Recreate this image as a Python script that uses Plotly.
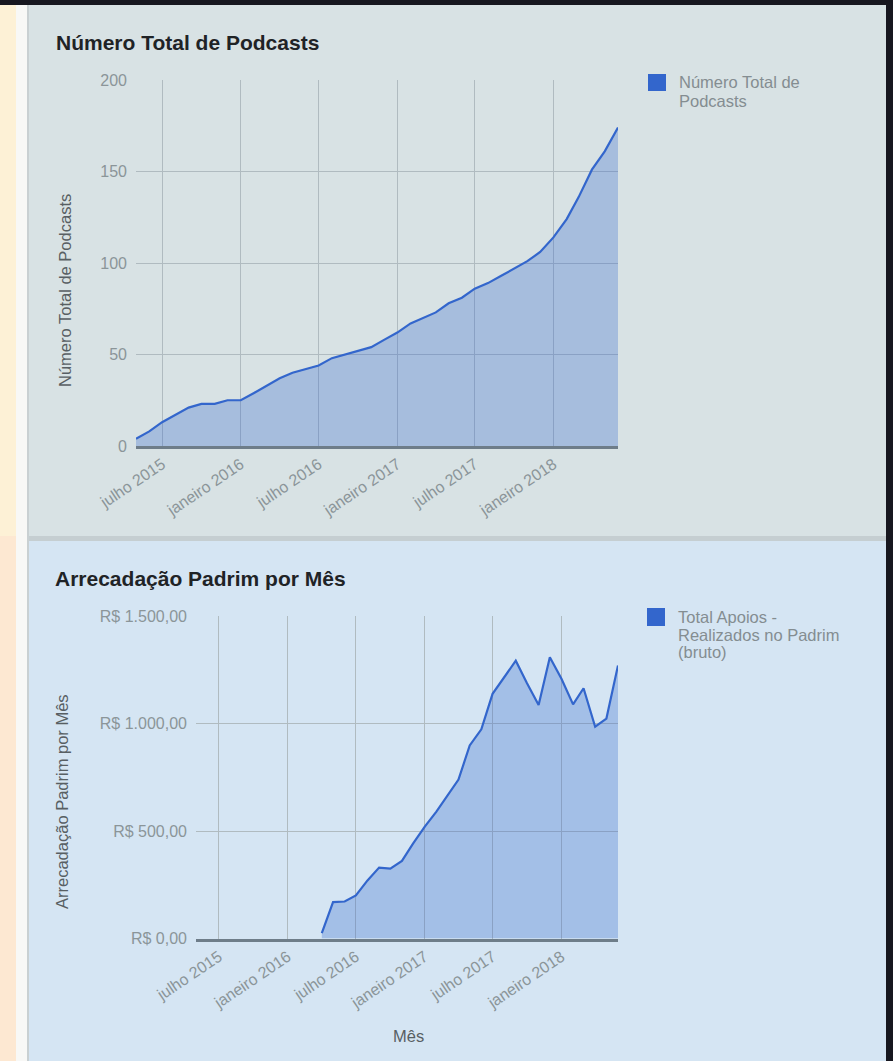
import plotly.graph_objects as go

W, H = 893, 1061

# ---------------- data ----------------
months = [
    "2015-05-01", "2015-06-01", "2015-07-01", "2015-08-01", "2015-09-01", "2015-10-01",
    "2015-11-01", "2015-12-01", "2016-01-01", "2016-02-01", "2016-03-01", "2016-04-01",
    "2016-05-01", "2016-06-01", "2016-07-01", "2016-08-01", "2016-09-01", "2016-10-01",
    "2016-11-01", "2016-12-01", "2017-01-01", "2017-02-01", "2017-03-01", "2017-04-01",
    "2017-05-01", "2017-06-01", "2017-07-01", "2017-08-01", "2017-09-01", "2017-10-01",
    "2017-11-01", "2017-12-01", "2018-01-01", "2018-02-01", "2018-03-01", "2018-04-01",
    "2018-05-01", "2018-06-01",
]

podcasts = [
    4, 8, 13, 17, 21, 23, 23, 25, 25, 29, 33, 37,
    40, 42, 44, 48, 50, 52, 54, 58, 62, 67, 70, 73,
    78, 81, 86, 89, 93, 97, 101, 106, 114, 124, 136, 151,
    161, 174,
]

padrim = [
    None, None, None, None, None, None, None, None, None, None, None, 25,
    169, 172, 200, 270, 330, 325, 361, 442, 520, 590, 658, 739,
    898, 973, 1138, 1214, 1292, 1187, 1086, 1308, 1208, 1089, 1164, 985,
    1023, 1270,
]

x_tick_dates = ["2015-07-01", "2016-01-01", "2016-07-01", "2017-01-01", "2017-07-01", "2018-01-01"]
x_tick_labels = ["julho 2015", "janeiro 2016", "julho 2016", "janeiro 2017", "julho 2017", "janeiro 2018"]

y1_ticks = [0, 50, 100, 150, 200]
y1_labels = ["0", "50", "100", "150", "200"]
y2_ticks = [0, 500, 1000, 1500]
y2_labels = ["R$ 0,00", "R$ 500,00", "R$ 1.000,00", "R$ 1.500,00"]

title1 = "Número Total de Podcasts"
title2 = "Arrecadação Padrim por Mês"
ytitle1 = "Número Total de Podcasts"
ytitle2 = "Arrecadação Padrim por Mês"
xtitle2 = "Mês"
legend1_lines = ["Número Total de", "Podcasts"]
legend2_lines = ["Total Apoios -", "Realizados no Padrim", "(bruto)"]

# ---------------- helpers ----------------
def fx(px):
    return px / W

def fy(py):
    return 1 - py / H

FONT = "Liberation Sans, Arial, sans-serif"
BLUE = "#3366cc"
FILL = "rgba(51,102,204,0.30)"
TICK_COLOR = "#8b9599"
TITLE_COLOR = "#585f63"

fig = go.Figure()

fig.add_trace(go.Scatter(
    x=months, y=podcasts, mode="lines", name="Número Total de Podcasts",
    line=dict(color=BLUE, width=2.2), fill="tozeroy", fillcolor=FILL,
    xaxis="x", yaxis="y", showlegend=False, hoverinfo="skip",
))
fig.add_trace(go.Scatter(
    x=months, y=padrim, mode="lines", name="Total Apoios - Realizados no Padrim (bruto)",
    line=dict(color=BLUE, width=2.2), fill="tozeroy", fillcolor=FILL,
    xaxis="x2", yaxis="y2", showlegend=False, hoverinfo="skip",
))

common_x = dict(
    type="date", range=[months[0], months[-1]],
    tickmode="array", tickvals=x_tick_dates, ticktext=x_tick_labels,
    tickangle=-34, tickfont=dict(family=FONT, size=16, color=TICK_COLOR),
    showgrid=True, gridcolor="#b0bbc0", gridwidth=1,
    showline=True, linecolor="#6e7d89", linewidth=3,
    ticks="", zeroline=False, fixedrange=True, automargin=False,
)
common_y = dict(
    tickmode="array", tickfont=dict(family=FONT, size=16, color=TICK_COLOR),
    showgrid=True, gridcolor="#b0bbc0", gridwidth=1,
    zeroline=False, showline=False, ticks="", ticklabelstandoff=8, fixedrange=True,
    automargin=False,
)

fig.update_layout(
    width=W, height=H, autosize=False,
    margin=dict(l=0, r=0, t=0, b=0, pad=0, autoexpand=False),
    paper_bgcolor="#17171f", plot_bgcolor="rgba(0,0,0,0)",
    font=dict(family=FONT),
    xaxis=dict(common_x, domain=[fx(136), fx(618)], anchor="y"),
    yaxis=dict(common_y, domain=[fy(446), fy(80)], range=[0, 200], anchor="x",
               tickvals=y1_ticks, ticktext=y1_labels),
    xaxis2=dict(common_x, domain=[fx(196), fx(618)], anchor="y2"),
    yaxis2=dict(common_y, domain=[fy(938.5), fy(616)], range=[0, 1500], anchor="x2",
                tickvals=y2_ticks, ticktext=y2_labels),
)

# ---------------- background panels ----------------
def rect(x0, y0, x1, y1, color):
    fig.add_shape(type="rect", xref="paper", yref="paper",
                  x0=fx(x0), x1=fx(x1), y0=fy(y1), y1=fy(y0),
                  fillcolor=color, line=dict(width=0), layer="below")

rect(0, 5, 16, 536, "#fdf1d6")
rect(0, 536, 16, 1061, "#fde8d2")
rect(16, 5, 27, 1061, "#f8f8f6")
rect(27, 5, 29, 1061, "#c9d0d2")
rect(29, 5, 886, 536, "#d8e2e4")
rect(29, 536, 886, 541, "#c5ced1")
rect(29, 541, 886, 1061, "#d5e5f3")

# legend squares
rect(648, 74, 666, 91, BLUE)
rect(647, 608, 665, 626, BLUE)

# ---------------- text ----------------
def text(s, x, y, size, color, xanchor="left", bold=False, angle=0):
    fig.add_annotation(
        text=s, x=fx(x), y=fy(y), xref="paper", yref="paper",
        xanchor=xanchor, yanchor="middle", showarrow=False, textangle=angle,
        font=dict(family=FONT, size=size, color=color, weight="bold" if bold else "normal"),
    )

text(title1, 54, 42, 21, "#1f2326", bold=True)
text(title2, 53, 578, 21, "#1f2326", bold=True)
text(ytitle1, 65, 291, 16.5, TITLE_COLOR, xanchor="center", angle=-90)
text(ytitle2, 62, 802, 16.5, TITLE_COLOR, xanchor="center", angle=-90)
text(xtitle2, 408, 1036, 16.5, TITLE_COLOR, xanchor="center")

for i, line in enumerate(legend1_lines):
    text(line, 677, 82 + 19 * i, 16.5, "#848d91")
for i, line in enumerate(legend2_lines):
    text(line, 676, 617 + 17.5 * i, 16.5, "#848d91")

fig.write_html(
    "out.html",
    config={"displayModeBar": False, "staticPlot": True},
    post_script="document.body.style.margin='0';document.body.style.overflow='hidden';",
)
